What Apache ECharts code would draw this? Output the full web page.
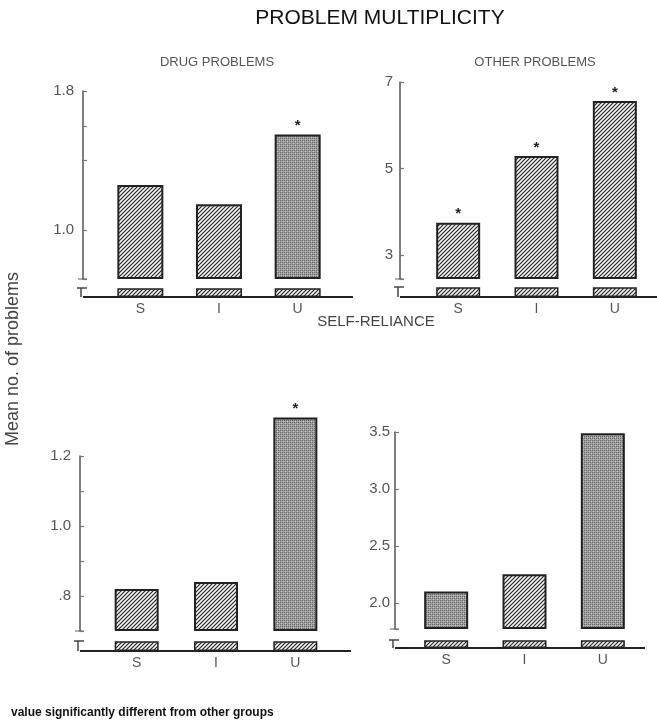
<!DOCTYPE html>
<html><head><meta charset="utf-8">
<script src="https://cdn.jsdelivr.net/npm/echarts@6/dist/echarts.min.js"></script>
<style>html,body{margin:0;padding:0;background:#fff}#c{width:657px;height:723px}</style>
</head><body><div id="c"></div>
<script>
// ---- data ----
const categories = ['S', 'I', 'U'];
const drugValues = [1.26, 1.15, 1.55];
const otherValues = [3.75, 5.29, 6.56];
const selfDrugValues = [0.82, 0.84, 1.31];
const selfOtherValues = [2.10, 2.25, 3.49];
const drugSig = [false, false, true];
const otherSig = [true, true, true];
const selfDrugSig = [false, false, true];
const selfOtherSig = [false, false, false];
const drugFill = ['hatch', 'hatch', 'dots'];
const otherFill = ['hatch', 'hatch', 'hatch'];
const selfDrugFill = ['hatch', 'hatch', 'dots'];
const selfOtherFill = ['dots', 'hatch', 'dots'];
const drugTicks = [0.72, 1.0, 1.4, 1.6, 1.8];
const drugLabels = [1.0, 1.8];
const otherTicks = [2.45, 3, 5, 7];
const otherLabels = [3, 5, 7];
const selfDrugTicks = [0.7, 0.8, 0.9, 1.0, 1.1, 1.2];
const selfDrugLabels = [0.8, 1.0, 1.2];
const selfOtherTicks = [1.77, 2.0, 2.5, 3.0, 3.5];
const selfOtherLabels = [2.0, 2.5, 3.0, 3.5];

// ---- patterns ----
function hatchCanvas() {
  const c = document.createElement('canvas'); c.width = 4; c.height = 4;
  const g = c.getContext('2d');
  g.fillStyle = '#f4f4f4'; g.fillRect(0, 0, 4, 4);
  g.strokeStyle = '#2a2a2a'; g.lineWidth = 1.2;
  g.beginPath();
  g.moveTo(-1, 5); g.lineTo(5, -1);
  g.moveTo(-1, 1); g.lineTo(1, -1);
  g.moveTo(3, 5); g.lineTo(5, 3);
  g.stroke();
  return c;
}
function dotsCanvas() {
  const c = document.createElement('canvas'); c.width = 4; c.height = 4;
  const g = c.getContext('2d');
  g.fillStyle = '#a0a0a0'; g.fillRect(0, 0, 4, 4);
  g.fillStyle = '#6a6a6a';
  g.fillRect(0, 0, 1, 1); g.fillRect(2, 2, 1, 1); g.fillRect(2, 0, 1, 1); g.fillRect(0, 2, 1, 1);
  g.fillStyle = '#c0c0c0';
  g.fillRect(1, 3, 1, 1); g.fillRect(3, 1, 1, 1);
  return c;
}
const PAT = {
  hatch: { image: hatchCanvas(), repeat: 'repeat' },
  dots: { image: dotsCanvas(), repeat: 'repeat' }
};

const FONT = 'Liberation Sans';
const panels = [
  { vals: drugValues, sig: drugSig, fill: drugFill, ticks: drugTicks, labels: drugLabels,
    min: 0.72, max: 1.8, left: 101, width: 236, top: 91, bottom: 279, offset: 18,
    stubTop: 289, base: 297, bw: 46, fmt: v => v.toFixed(1), lm: 9 },
  { vals: otherValues, sig: otherSig, fill: otherFill, ticks: otherTicks, labels: otherLabels,
    min: 2.45, max: 7, left: 419, width: 235, top: 82, bottom: 279, offset: 19,
    stubTop: 288, base: 297, bw: 44, fmt: v => String(Math.round(v)), lm: 7 },
  { vals: selfDrugValues, sig: selfDrugSig, fill: selfDrugFill, ticks: selfDrugTicks, labels: selfDrugLabels,
    min: 0.7, max: 1.2, left: 97, width: 238, top: 456, bottom: 631, offset: 17,
    stubTop: 642, base: 651, bw: 44, fmt: v => (v < 1 ? v.toFixed(1).replace(/^0/, '') : v.toFixed(1)), lm: 9 },
  { vals: selfOtherValues, sig: selfOtherSig, fill: selfOtherFill, ticks: selfOtherTicks, labels: selfOtherLabels,
    min: 1.77, max: 3.5, left: 407, width: 235, top: 432, bottom: 629, offset: 12,
    stubTop: 641, base: 648, bw: 44, fmt: v => v.toFixed(1), lm: 5 }
];

const grid = [], xAxis = [], yAxis = [], series = [], graphic = [];
panels.forEach((p, k) => {
  const gi = grid.length;
  grid.push({ left: p.left, width: p.width, top: p.top, height: p.bottom - p.top });
  grid.push({ left: p.left, width: p.width, top: p.stubTop, height: p.base - p.stubTop });
  xAxis.push({ type: 'category', gridIndex: gi, data: categories, show: false });
  xAxis.push({ type: 'category', gridIndex: gi + 1, data: categories,
    axisLine: { show: true, lineStyle: { color: '#222', width: 2 } },
    axisTick: { show: false },
    axisLabel: { color: '#555', fontSize: 14, fontFamily: FONT, margin: 5 } });
  yAxis.push({ type: 'value', gridIndex: gi, min: p.min, max: p.max, offset: p.offset,
    axisLine: { show: true, lineStyle: { color: '#555', width: 1.5 } },
    axisTick: { show: true, inside: true, length: 4, customValues: p.ticks, lineStyle: { color: '#777', width: 1.2 } },
    axisLabel: { customValues: p.labels, formatter: p.fmt, color: '#555', fontSize: 15, fontFamily: FONT, margin: p.lm },
    splitLine: { show: false } });
  yAxis.push({ type: 'value', gridIndex: gi + 1, min: 0, max: 0.1, show: false, splitLine: { show: false } });
  // invisible base up to the axis break, so visible bars start at the break
  series.push({ type: 'bar', xAxisIndex: gi, yAxisIndex: gi, barWidth: p.bw, stack: 'b' + k, clip: false,
    data: p.vals.map(() => p.min), itemStyle: { color: 'rgba(0,0,0,0)' }, silent: true, animation: false });
  series.push({ type: 'bar', xAxisIndex: gi, yAxisIndex: gi, barWidth: p.bw, stack: 'b' + k, clip: false,
    data: p.vals.map((v, i) => ({ value: +(v - p.min).toFixed(4), itemStyle: { color: PAT[p.fill[i]] } })),
    itemStyle: { borderColor: '#222', borderWidth: 2 },
    label: { show: true, position: 'top', distance: 1, color: '#222', fontSize: 15, fontWeight: 'bold', fontFamily: FONT,
      formatter: prm => (p.sig[prm.dataIndex] ? '*' : '') },
    animation: false });
  series.push({ type: 'bar', xAxisIndex: gi + 1, yAxisIndex: gi + 1, barWidth: p.bw, clip: true,
    data: p.vals.slice(),
    itemStyle: { color: PAT.hatch, borderColor: '#222', borderWidth: 1.5 },
    animation: false });
  const ax = p.left - p.offset;
  // baseline extension and axis break mark (decoration)
  graphic.push({ type: 'line', shape: { x1: ax, y1: p.base, x2: p.left, y2: p.base }, style: { stroke: '#222', lineWidth: 2 } });
  graphic.push({ type: 'line', shape: { x1: p.left + p.width, y1: p.base, x2: p.left + p.width + (k % 2 === 0 ? 16 : 3), y2: p.base }, style: { stroke: '#222', lineWidth: 2 } });
  graphic.push({ type: 'line', shape: { x1: ax - 6, y1: p.stubTop - 1, x2: ax + 4, y2: p.stubTop - 1 }, style: { stroke: '#444', lineWidth: 1.5 } });
  graphic.push({ type: 'line', shape: { x1: ax - 2, y1: p.stubTop - 1, x2: ax - 2, y2: p.base }, style: { stroke: '#444', lineWidth: 1.5 } });
  graphic.push({ type: 'line', shape: { x1: ax - 5, y1: p.bottom, x2: ax + 4, y2: p.bottom }, style: { stroke: '#777', lineWidth: 1.2 } });
});

graphic.push({ type: 'text', x: 380, y: 18, style: { text: 'PROBLEM MULTIPLICITY', font: '21px "Liberation Sans"', fill: '#111', align: 'center', verticalAlign: 'middle' } });
graphic.push({ type: 'text', x: 217, y: 62, style: { text: 'DRUG PROBLEMS', font: '13px "Liberation Sans"', fill: '#555', align: 'center', verticalAlign: 'middle' } });
graphic.push({ type: 'text', x: 535, y: 62, style: { text: 'OTHER PROBLEMS', font: '13px "Liberation Sans"', fill: '#555', align: 'center', verticalAlign: 'middle' } });
graphic.push({ type: 'text', x: 376, y: 322, style: { text: 'SELF-RELIANCE', font: '15px "Liberation Sans"', fill: '#444', align: 'center', verticalAlign: 'middle' } });
graphic.push({ type: 'text', x: 13, y: 359, rotation: Math.PI / 2, style: { text: 'Mean no. of problems', font: '18px "Liberation Sans"', fill: '#444', align: 'center', verticalAlign: 'middle' } });
graphic.push({ type: 'text', x: 11, y: 713, style: { text: 'value significantly different from other groups', font: 'bold 12px "Liberation Sans"', fill: '#111', verticalAlign: 'middle' } });

const chart = echarts.init(document.getElementById('c'), null, { renderer: 'canvas' });
chart.setOption({ animation: false, backgroundColor: '#fff', grid, xAxis, yAxis, series, graphic });
</script></body></html>
